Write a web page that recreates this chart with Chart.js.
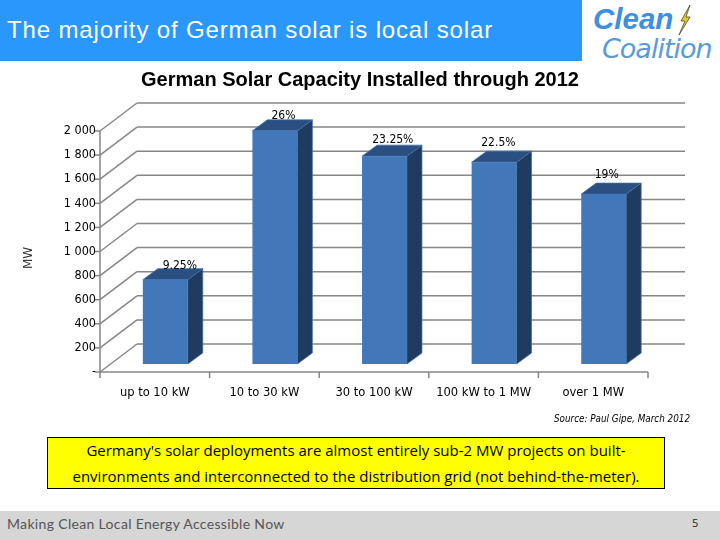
<!DOCTYPE html>
<html>
<head>
<meta charset="utf-8">
<title>German Solar Capacity</title>
<script src="https://cdn.jsdelivr.net/npm/chart.js@4"></script>
<style>
  html, body { margin: 0; padding: 0; background: #fff; }
  body { position: relative; width: 720px; height: 540px; overflow: hidden; }
  .abs { position: absolute; white-space: nowrap; }
  #banner { left: 0; top: 0; width: 582px; height: 61px; background: #2a97fc; }
  #headline { left: 7px; top: 16px; color: #fff; font: 24px "Liberation Sans", sans-serif; letter-spacing: 0.85px; }
  #clean { left: 593px; top: 2px; color: #3f8fe0; font: italic bold 29.5px "Liberation Sans", sans-serif; }
  #coalition { left: 602px; top: 33px; color: #5a9ad8; font: italic 27px "DejaVu Sans", sans-serif; letter-spacing: -1px; }
  #bolt { left: 677px; top: 5px; }
  #chart { position: absolute; left: 0; top: 62px; }
  #mw { left: 22px; top: 250px; color: #333; font: 12px "DejaVu Sans", sans-serif; transform-origin: 0 0; transform: translate(-1px, 19px) rotate(-90deg); }
  #source { right: 30px; top: 413px; font: italic 9.8px "DejaVu Sans Condensed", "DejaVu Sans", sans-serif; }
  #note { left: 47px; top: 437px; width: 616px; height: 50px; background: #ffff00; border: 1px solid #000; text-align: center; font: 15px/25.5px "Open Sans", sans-serif; white-space: normal; }
  #footer { left: 0; top: 511px; width: 720px; height: 29px; background: #d6d6d6; }
  #tagline { left: 7px; top: 515px; color: #555; font: 14px Lato, sans-serif; letter-spacing: 0.33px; }
  #page { left: 692px; top: 515px; color: #222; font: 11px "Open Sans", sans-serif; }
</style>
</head>
<body>
<div class="abs" id="banner"></div>
<div class="abs" id="headline">The majority of German solar is local solar</div>
<div class="abs" id="clean">Clean</div>
<div class="abs" id="coalition">Coalition</div>
<svg class="abs" id="bolt" width="16" height="32" viewBox="0 0 16 32">
  <polygon points="13,0 4,16 8,16 2,30 13,12 9,12" fill="#e8c92a" stroke="#333" stroke-width="0.7"></polygon>
</svg>
<canvas id="chart" width="720" height="360"></canvas>
<div class="abs" id="mw">MW</div>
<div class="abs" id="source">Source: Paul Gipe, March 2012</div>
<div class="abs" id="note">Germany's solar deployments are almost entirely sub-2 MW projects on built-<br>environments and interconnected to the distribution grid (not behind-the-meter).</div>
<div class="abs" id="footer"></div>
<div class="abs" id="tagline">Making Clean Local Energy Accessible Now</div>
<div class="abs" id="page">5</div>

<script>
const categories = ["up to 10 kW", "10 to 30 kW", "30 to 100 kW", "100 kW to 1 MW", "over 1 MW"];
const capacityMW = [700, 1935, 1725, 1675, 1410];
const shareLabels = ["9.25%", "26%", "23.25%", "22.5%", "19%"];

// how far the back wall sits from the front plane
const wallX = 37, wallY = 28;
// bars stand part way into the floor, and have their own depth
const barShiftX = 10.5, barShiftY = 8;
const barDepthX = 15, barDepthY = 11;
// hand nudges for the share labels, the original ones are not quite centred
const labelNudgeX = [14.5, 8.5, 8.3, 4.3, 3];
const labelNudgeY = [3, 4, 5, 8, 8];

const gridColor = "#868686";
const labelFont = '"DejaVu Sans Condensed", "DejaVu Sans", sans-serif';

function line(ctx, x1, y1, x2, y2) {
  ctx.beginPath();
  ctx.moveTo(x1, y1);
  ctx.lineTo(x2, y2);
  ctx.stroke();
}

function poly(ctx, pts, fill) {
  ctx.beginPath();
  pts.forEach((p, i) => i ? ctx.lineTo(p[0], p[1]) : ctx.moveTo(p[0], p[1]));
  ctx.closePath();
  ctx.fillStyle = fill;
  ctx.fill();
  ctx.strokeStyle = "#3f6ea8";
  ctx.lineWidth = 0.7;
  ctx.stroke();
}

const depthPlugin = {
  id: "depth",
  beforeDatasetsDraw(chart) {
    const { ctx, chartArea: a, scales } = chart;
    const y = scales.y;
    ctx.save();
    ctx.strokeStyle = gridColor;
    ctx.lineWidth = 1.5;
    y.ticks.forEach(t => {
      const py = y.getPixelForValue(t.value);
      line(ctx, a.left, py, a.left + wallX, py - wallY);
      line(ctx, a.left + wallX, py - wallY, a.right + wallX, py - wallY);
      line(ctx, a.left - 5, py, a.left, py);
    });
    line(ctx, a.left, a.top, a.left, a.bottom);
    line(ctx, a.left, a.bottom, a.right, a.bottom);
    for (let i = 0; i <= categories.length; i++) {
      const px = a.left + i * (a.right - a.left) / categories.length;
      line(ctx, px, a.bottom, px, a.bottom + 6);
    }
    // side and top faces go first, the library draws the front faces over them
    chart.getDatasetMeta(0).data.forEach(bar => {
      const l = bar.x - bar.width / 2 + barShiftX;
      const r = bar.x + bar.width / 2 + barShiftX;
      const t = bar.y - barShiftY;
      const b = bar.base - barShiftY;
      poly(ctx, [[r, t], [r + barDepthX, t - barDepthY], [r + barDepthX, b - barDepthY], [r, b]], "#1f3b5f");
      poly(ctx, [[l, t], [l + barDepthX, t - barDepthY], [r + barDepthX, t - barDepthY], [r, t]], "#2c4f82");
    });
    ctx.restore();
    ctx.save();
    ctx.translate(barShiftX, -barShiftY);
  },
  afterDatasetsDraw(chart) {
    const { ctx } = chart;
    ctx.restore();
    ctx.save();
    ctx.fillStyle = "#000";
    ctx.font = "12px " + labelFont;
    ctx.textAlign = "center";
    ctx.textBaseline = "middle";
    chart.getDatasetMeta(0).data.forEach((bar, i) => {
      const top = bar.y - barShiftY - barDepthY;
      ctx.fillText(shareLabels[i], bar.x + barShiftX + labelNudgeX[i], top - labelNudgeY[i]);
    });
    ctx.restore();
  }
};

new Chart(document.getElementById("chart"), {
  type: "bar",
  data: {
    labels: categories,
    datasets: [{
      data: capacityMW,
      backgroundColor: "#4277b9",
      borderWidth: 0,
      barPercentage: 0.41,
      categoryPercentage: 1
    }]
  },
  options: {
    responsive: false,
    animation: false,
    plugins: {
      legend: { display: false },
      tooltip: { enabled: false },
      title: {
        display: true,
        text: "German Solar Capacity Installed through 2012",
        color: "#000",
        font: { family: '"Liberation Sans", sans-serif', size: 20, weight: "bold" },
        padding: { top: 6, bottom: 39 }
      }
    },
    scales: {
      x: {
        grid: { display: false },
        border: { display: false },
        ticks: {
          color: "#000",
          font: { family: labelFont, size: 12.8 },
          padding: 5,
          maxRotation: 0
        },
        afterFit(scale) { scale.height = 50; }
      },
      y: {
        min: 0,
        max: 2000,
        grid: { display: false, drawTicks: false },
        border: { display: false },
        ticks: {
          stepSize: 200,
          color: "#000",
          padding: 4,
          font: { family: labelFont, size: 12.5 },
          callback(value) {
            if (value === 0) return "-";
            return value >= 1000 ? Math.floor(value / 1000) + " " + String(value % 1000).padStart(3, "0") : String(value);
          }
        },
        afterFit(scale) { scale.width = 100; }
      },
      // empty axis, it only keeps the plot clear of the right side so the title stays centred on the page
      spacer: {
        position: "right",
        min: 0,
        max: 1,
        grid: { display: false },
        border: { display: false },
        ticks: { display: false },
        afterFit(scale) { scale.width = 72; }
      }
    }
  },
  plugins: [depthPlugin]
});
</script>
</body>
</html>
